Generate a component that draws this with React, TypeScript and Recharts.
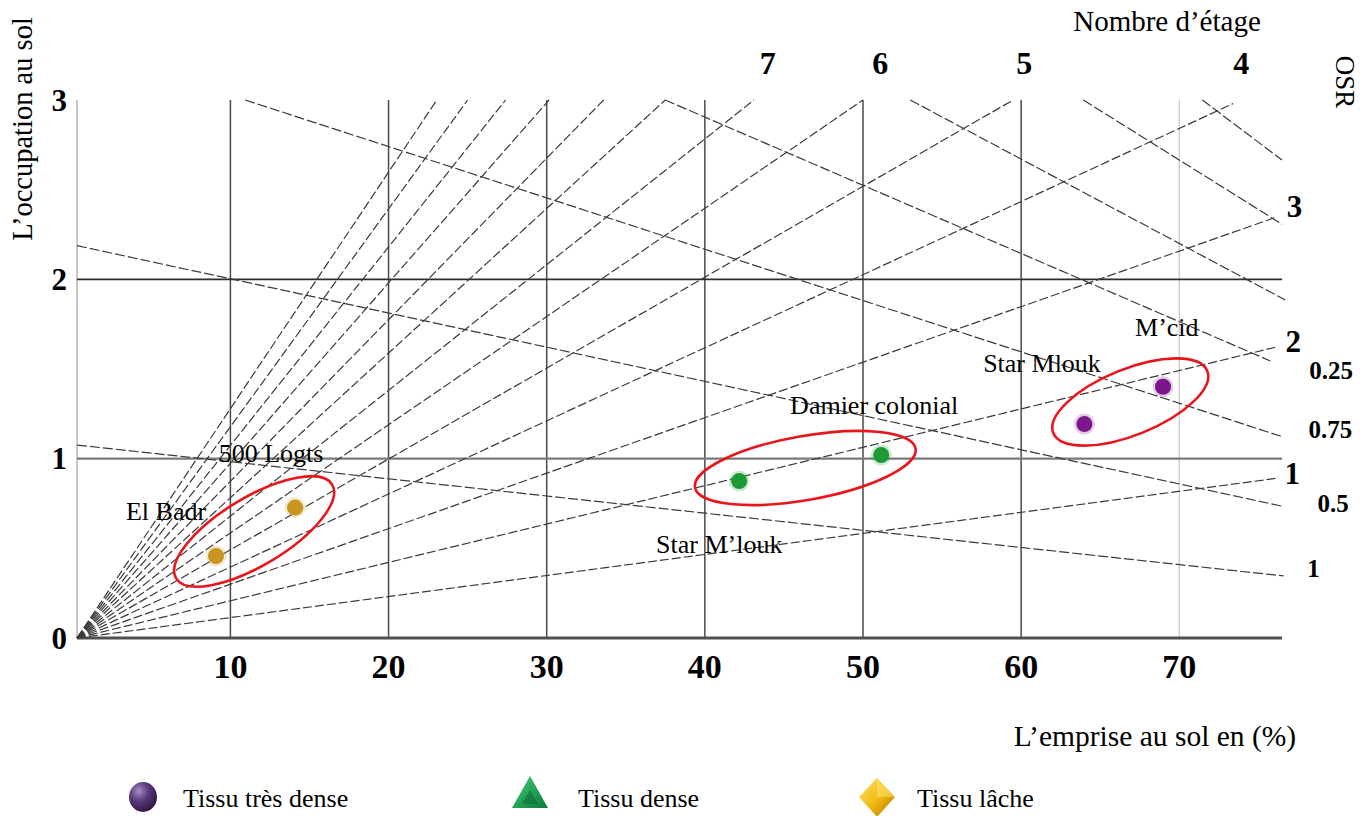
import React from "react";
import {
  ScatterChart,
  Scatter,
  XAxis,
  YAxis,
  ReferenceLine,
  ReferenceDot,
  Customized,
} from "recharts";

const SERIF = '"Liberation Serif", "Times New Roman", serif';

// left edge of the drawn frame (emprise %), the rays start there
const X0 = 0.3;
const X_MAX = 77;
const X_END = 76.5;

const xTicks = [10, 20, 30, 40, 50, 60, 70];
const yTicks = [0, 1, 2, 3];

// vertical grid at each tick, the last one is lighter
const gridX = [10, 20, 30, 40, 50, 60, 70];
const gridY = [1, 2];

// nombre d'étage rays: end point of each one
const fanFloors = [1, 2, 3, 4, 5, 6, 7, 8, 9, 10, 11, 12, 13];
const fanEndX = [76.2, 76.2, 76.2, 73.4, 59.5, 50.0, 43.1, 37.5, 33.6, 30.15, 27.4, 25.0, 23.05];
const fanEndY = [0.891, 1.624, 2.349, 2.98, 3, 3, 3, 3, 3, 3, 3, 3, 3];

// OSR lines (descending), start and end points
const osrStart = [
  { x: 10.93, y: 3 },
  { x: 37.49, y: 3 },
  { x: 52.99, y: 3 },
  { x: 63.93, y: 3 },
  { x: 71.46, y: 3 },
  { x: X0, y: 2.188 },
  { x: X0, y: 1.076 },
];
const osrEnd = [
  { x: 76.5, y: 1.123 },
  { x: 75.76, y: 1.545 },
  { x: 76.7, y: 1.885 },
  { x: 76.5, y: 2.307 },
  { x: 76.5, y: 2.665 },
  { x: 76.6, y: 0.733 },
  { x: 76.6, y: 0.346 },
];

// tissus
const tresDense = [
  { x: 64.0, y: 1.193 },
  { x: 68.97, y: 1.401 },
];
const dense = [
  { x: 42.17, y: 0.875 },
  { x: 51.15, y: 1.02 },
];
const lache = [
  { x: 9.09, y: 0.457 },
  { x: 14.09, y: 0.727 },
];

// groups circled in red
const groupCenters = [
  { x: 11.5, y: 0.594 },
  { x: 46.35, y: 0.948 },
  { x: 66.9, y: 1.316 },
];
const groupShapes = [
  { rx: 91, ry: 34, angle: -31 },
  { rx: 112, ry: 32, angle: -10 },
  { rx: 83, ry: 33, angle: -22 },
];

const siteNames = ["El Badr", "500 Logts", "Damier colonial", "Star M’louk", "Star Mlouk", "M’cid"];
const siteX = [5.93, 12.57, 50.71, 40.91, 61.32, 69.21];
const siteY = [0.703, 1.03, 1.299, 0.519, 1.528, 1.729];

const floorLabels = ["7", "6", "5", "4"];
const floorLabelX = [43.97, 51.09, 60.2, 73.92];
const floorLabelY = 3.206;

const rightFloorLabels = ["3", "2", "1"];
const rightFloorX = [77.28, 77.2, 77.15];
const rightFloorY = [2.406, 1.652, 0.918];

const osrLabels = ["0.25", "0.75", "0.5", "1"];
const osrLabelX = [79.6, 79.55, 79.73, 78.48];
const osrLabelY = [1.489, 1.163, 0.751, 0.389];

const legendNames = ["Tissu très dense", "Tissu dense", "Tissu lâche"];

const COLORS = {
  tresDense: "#7b168c",
  dense: "#1c9a35",
  lache: "#c8961f",
  ring: "#e8161c",
  dash: "#3a3a3a",
};

function pointShape(color: string) {
  return (p: any) => (
    <g>
      <circle cx={p.cx} cy={p.cy} r={10.5} fill={color} opacity={0.22} />
      <circle cx={p.cx} cy={p.cy} r={8} fill={color} />
    </g>
  );
}

function ringShape(i: number) {
  const s = groupShapes[i];
  return (p: any) => (
    <ellipse
      cx={p.cx}
      cy={p.cy}
      rx={s.rx}
      ry={s.ry}
      transform={`rotate(${s.angle} ${p.cx} ${p.cy})`}
      fill="none"
      stroke={COLORS.ring}
      strokeWidth={2.6}
    />
  );
}

function textShape(value: string, size: number, bold: boolean) {
  return (p: any) => (
    <text
      x={p.cx}
      y={p.cy}
      textAnchor="middle"
      dominantBaseline="central"
      fontFamily={SERIF}
      fontSize={size}
      fontWeight={bold ? "bold" : "normal"}
      fill="#000"
    >
      {value}
    </text>
  );
}

function renderXTick(p: any) {
  return (
    <text
      x={p.x}
      y={p.y - 1}
      dy="0.71em"
      textAnchor="middle"
      fill="#000"
      style={{ fontFamily: SERIF, fontWeight: "bold", fontSize: "34px" }}
    >
      {p.payload.value}
    </text>
  );
}

function renderYTick(p: any) {
  return (
    <text
      x={p.x}
      y={p.y}
      dy="0.34em"
      textAnchor="end"
      fill="#000"
      style={{ fontFamily: SERIF, fontWeight: "bold", fontSize: "31px" }}
    >
      {p.payload.value}
    </text>
  );
}

function Titles() {
  return (
    <g fontFamily={SERIF} fill="#000">
      <defs>
        <radialGradient id="gPurple" cx="35%" cy="30%" r="75%">
          <stop offset="0%" stopColor="#a68cc4" />
          <stop offset="45%" stopColor="#5b3a7e" />
          <stop offset="100%" stopColor="#2c1640" />
        </radialGradient>
        <linearGradient id="gGreen" x1="0" y1="0" x2="1" y2="1">
          <stop offset="0%" stopColor="#3fd07a" />
          <stop offset="100%" stopColor="#0b7a38" />
        </linearGradient>
        <linearGradient id="gGold" x1="0" y1="0" x2="1" y2="1">
          <stop offset="0%" stopColor="#ffe66a" />
          <stop offset="55%" stopColor="#f0b810" />
          <stop offset="100%" stopColor="#a87400" />
        </linearGradient>
      </defs>
      <text
        transform="translate(22 129) rotate(-90)"
        textAnchor="middle"
        dominantBaseline="central"
        fontSize={28.5}
      >
        L’occupation au sol
      </text>
      <text x={1167} y={31} textAnchor="middle" fontSize={29}>
        Nombre d’étage
      </text>
      <text
        transform="translate(1345 82) rotate(90)"
        textAnchor="middle"
        dominantBaseline="central"
        fontSize={27}
      >
        OSR
      </text>
      <text x={1155} y={746} textAnchor="middle" fontSize={29.5}>
        L’emprise au sol en (%)
      </text>

      <ellipse cx={143} cy={797} rx={14} ry={15} fill="url(#gPurple)" />
      <text x={183} y={807} fontSize={26}>{legendNames[0]}</text>

      <polygon points="530,776 512,808 548,808" fill="url(#gGreen)" />
      <polygon points="530,790 522,804 538,804" fill="#0e6e34" opacity={0.6} />
      <text x={578} y={807} fontSize={26}>{legendNames[1]}</text>

      <polygon points="877,778 895,797 877,817 859,797" fill="url(#gGold)" />
      <polygon points="877,778 895,797 877,797" fill="#ffe87a" opacity={0.5} />
      <text x={917} y={807} fontSize={26}>{legendNames[2]}</text>
    </g>
  );
}

export default function App() {
  return (
    <div style={{ position: "absolute", left: 0, top: 0, background: "#fff" }}>
      <ScatterChart
        width={1371}
        height={816}
        margin={{ top: 100, right: 81, bottom: 118, left: 17 }}
      >
        <XAxis
          type="number"
          dataKey="x"
          domain={[X0, X_MAX]}
          ticks={xTicks}
          allowDataOverflow
          height={60}
          axisLine={false}
          tickLine={false}
          tickMargin={11}
          tick={renderXTick}
        />
        <YAxis
          type="number"
          dataKey="y"
          domain={[0, 3]}
          ticks={yTicks}
          allowDataOverflow
          width={60}
          axisLine={false}
          tickLine={false}
          tickMargin={4}
          tick={renderYTick}
        />

        <ReferenceLine
          segment={[{ x: X0, y: 0 }, { x: X0, y: 3 }]}
          stroke="#c8c8c8"
          strokeWidth={2}
          ifOverflow="visible"
        />
        {gridX.map((gx) => (
          <ReferenceLine
            key={`gx${gx}`}
            segment={[{ x: gx, y: 0 }, { x: gx, y: 3 }]}
            stroke={gx === 70 ? "#cfcfcf" : "#4a4a4a"}
            strokeWidth={1.5}
          />
        ))}
        {gridY.map((gy) => (
          <ReferenceLine
            key={`gy${gy}`}
            segment={[{ x: X0, y: gy }, { x: X_END, y: gy }]}
            stroke={gy === 1 ? "#7a7a7a" : "#2e2e2e"}
            strokeWidth={gy === 1 ? 2.2 : 1.6}
          />
        ))}
        <ReferenceLine
          segment={[{ x: X0, y: 0 }, { x: X_END, y: 0 }]}
          stroke="#505050"
          strokeWidth={3}
          ifOverflow="visible"
        />

        {fanFloors.map((n, i) => (
          <ReferenceLine
            key={`fan${n}`}
            segment={[{ x: X0, y: 0 }, { x: fanEndX[i], y: fanEndY[i] }]}
            stroke={COLORS.dash}
            strokeWidth={1.2}
            strokeDasharray="9 3"
            ifOverflow="visible"
          />
        ))}
        {osrStart.map((s, i) => (
          <ReferenceLine
            key={`osr${i}`}
            segment={[s, osrEnd[i]]}
            stroke={COLORS.dash}
            strokeWidth={1.2}
            strokeDasharray="10 3"
            ifOverflow="visible"
          />
        ))}

        {groupCenters.map((c, i) => (
          <Scatter
            key={`ring${i}`}
            data={[c]}
            shape={ringShape(i)}
            isAnimationActive={false}
          />
        ))}
        <Scatter name={legendNames[0]} data={tresDense} shape={pointShape(COLORS.tresDense)} isAnimationActive={false} />
        <Scatter name={legendNames[1]} data={dense} shape={pointShape(COLORS.dense)} isAnimationActive={false} />
        <Scatter name={legendNames[2]} data={lache} shape={pointShape(COLORS.lache)} isAnimationActive={false} />

        {siteNames.map((name, i) => (
          <ReferenceDot
            key={name}
            x={siteX[i]}
            y={siteY[i]}
            r={0}
            ifOverflow="visible"
            shape={textShape(name, 26, false)}
          />
        ))}
        {floorLabels.map((lab, i) => (
          <ReferenceDot
            key={`fl${lab}`}
            x={floorLabelX[i]}
            y={floorLabelY}
            r={0}
            ifOverflow="visible"
            shape={textShape(lab, 32, true)}
          />
        ))}
        {rightFloorLabels.map((lab, i) => (
          <ReferenceDot
            key={`rf${lab}`}
            x={rightFloorX[i]}
            y={rightFloorY[i]}
            r={0}
            ifOverflow="visible"
            shape={textShape(lab, 31, true)}
          />
        ))}
        {osrLabels.map((lab, i) => (
          <ReferenceDot
            key={`ol${i}`}
            x={osrLabelX[i]}
            y={osrLabelY[i]}
            r={0}
            ifOverflow="visible"
            shape={textShape(lab, 25, true)}
          />
        ))}

        <Customized component={Titles} />
      </ScatterChart>
    </div>
  );
}
